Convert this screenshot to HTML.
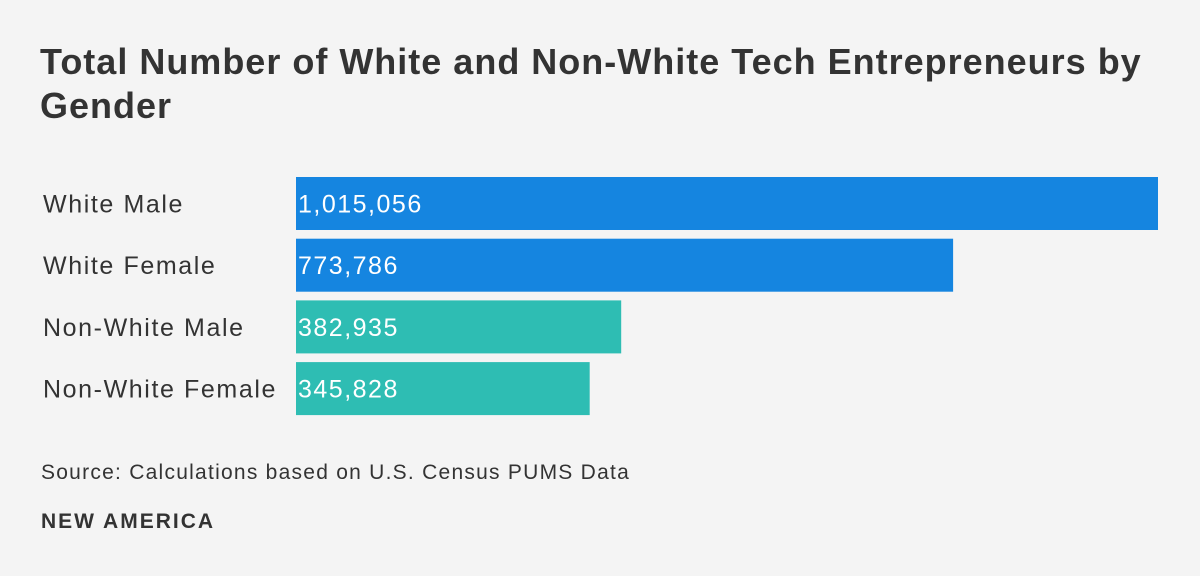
<!DOCTYPE html>
<html><head><meta charset="utf-8"><style>
body{margin:0;width:1200px;height:576px;background:#f4f4f4;font-family:"Liberation Sans",sans-serif;color:#333;overflow:hidden;position:relative}
.title{position:absolute;left:40px;top:40px;width:1150px;font-size:36px;letter-spacing:1px;font-weight:bold;line-height:44px;color:#333}
.src{position:absolute;left:41px;top:461px;font-size:21px;letter-spacing:1.25px;color:#333}
.brand{position:absolute;left:41px;top:510px;font-size:21px;letter-spacing:2px;font-weight:bold;color:#333}
</style></head><body>
<div class="title">Total Number of White and Non-White Tech Entrepreneurs by Gender</div>
<svg id="chart" width="1200" height="576" style="position:absolute;left:0;top:0"></svg>
<div class="src">Source: Calculations based on U.S. Census PUMS Data</div>
<div class="brand">NEW AMERICA</div>
<script>
const categories=["White Male","White Female","Non-White Male","Non-White Female"];
const values=[1015056,773786,382935,345828];
const colors=["#1585e0","#1585e0","#2ebdb3","#2ebdb3"];
const svg=document.getElementById('chart');
const NS="http://www.w3.org/2000/svg";
const x0=296,x1=1158,maxV=Math.max(...values);
const xs=v=>x0+(v/maxV)*(x1-x0);
const top0=177,step=61.7,bh=53;
categories.forEach((c,i)=>{
  const y=top0+i*step;
  const r=document.createElementNS(NS,'rect');
  r.setAttribute('x',x0);r.setAttribute('y',y);r.setAttribute('width',xs(values[i])-x0);r.setAttribute('height',bh);r.setAttribute('fill',colors[i]);
  
  
  svg.appendChild(r);
  const l=document.createElementNS(NS,'text');
  l.setAttribute('x',43);l.setAttribute('y',y+bh/2+9);l.setAttribute('font-size','25');l.setAttribute('letter-spacing','1.6');l.setAttribute('fill','#333');l.setAttribute('font-family','Liberation Sans, sans-serif');
  l.textContent=c;
  
  
  svg.appendChild(l);
  const v=document.createElementNS(NS,'text');
  v.setAttribute('x',x0+2);v.setAttribute('y',y+bh/2+9);v.setAttribute('font-size','25');v.setAttribute('letter-spacing','1.5');v.setAttribute('fill','#fff');v.setAttribute('font-family','Liberation Sans, sans-serif');
  v.textContent=values[i].toLocaleString('en-US');
  
  
  svg.appendChild(v);
});
</script>
</body></html>
